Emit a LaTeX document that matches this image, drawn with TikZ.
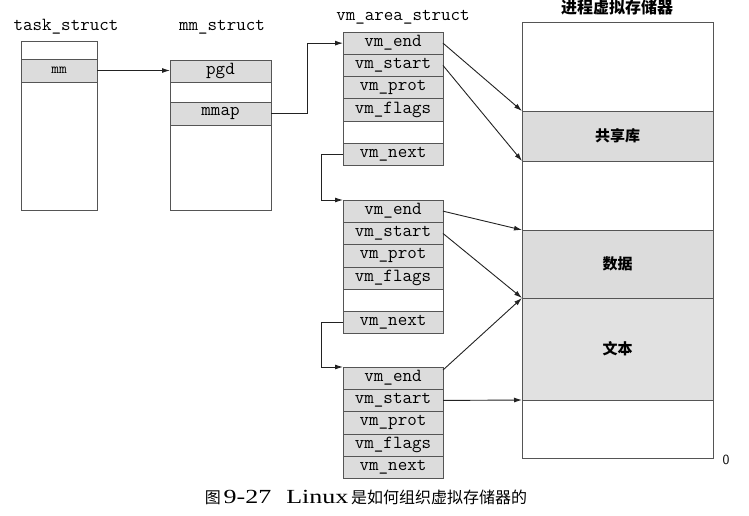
\documentclass[tikz,border=0pt]{standalone}
\usepackage{fontspec}
\usepackage{graphicx}
\setmainfont{Liberation Serif}
\newfontfamily\cjk{Noto Sans CJK SC}
\usetikzlibrary{arrows.meta}
\definecolor{linec}{HTML}{555555}
\definecolor{cellfill}{HTML}{DCDCDC}
\definecolor{arrc}{HTML}{222222}
\begin{document}
\begin{tikzpicture}[x=1pt,y=-1pt,
  box/.style={draw=linec, line width=0.8pt, fill=white, inner sep=0pt, outer sep=0pt},
  cell/.style={draw=linec, line width=0.8pt, fill=cellfill, inner sep=0pt, outer sep=0pt,
     minimum width=100pt, minimum height=22.3pt, font=\ttfamily\fontsize{18.5}{19}\selectfont},
  wcell/.style={cell, fill=white},
  ttl/.style={font=\ttfamily\fontsize{18.5}{19}\selectfont, inner sep=0pt},
  region/.style={draw=linec, line width=0.8pt, fill=cellfill, inner sep=0pt, outer sep=0pt,
     minimum width=191pt, font=\cjk\bfseries\fontsize{15}{16}\selectfont},
  arr/.style={draw=arrc, line width=0.9pt, -{Latex[length=8pt,width=5pt]}}
]
\useasboundingbox (0,0) rectangle (749,516);

% titles
\node[ttl] (t1) at (66,27) {task\_struct};
\node[ttl] (t2) at (222,27) {mm\_struct};
\node[ttl] (t3) at (403,17) {vm\_area\_struct};
\node[font=\cjk\bfseries\fontsize{16}{17}\selectfont, inner sep=0pt] (t4) at (617,7) {进程虚拟存储器};

% task_struct
\node[box, minimum width=76pt, minimum height=169pt] (task) at (59,125.5) {};
\node[cell, minimum width=76pt, minimum height=23pt, font=\ttfamily\fontsize{15}{16}\selectfont] (mm) at (59,70.5) {mm};

% mm_struct
\node[box, minimum width=101pt, minimum height=150pt] (mms) at (220.5,135) {};
\node[cell, minimum width=101pt, minimum height=22pt] (pgd) at (220.5,71) {pgd};
\node[cell, minimum width=101pt, minimum height=23pt] (mmap) at (220.5,113.5) {mmap};

% vm_area_struct 1
\node[cell] (a1) at (393,43.15) {vm\_end};
\node[cell] (b1) at (393,65.45) {vm\_start};
\node[cell] (c1) at (393,87.75) {vm\_prot};
\node[cell] (d1) at (393,110.05) {vm\_flags};
\node[wcell] (e1) at (393,132.35) {};
\node[cell] (f1) at (393,154.65) {vm\_next};

% vm_area_struct 2
\node[cell] (a2) at (393,211.15) {vm\_end};
\node[cell] (b2) at (393,233.45) {vm\_start};
\node[cell] (c2) at (393,255.75) {vm\_prot};
\node[cell] (d2) at (393,278.05) {vm\_flags};
\node[wcell] (e2) at (393,300.35) {};
\node[cell] (f2) at (393,322.65) {vm\_next};

% vm_area_struct 3
\node[cell] (a3) at (393,378.15) {vm\_end};
\node[cell] (b3) at (393,400.45) {vm\_start};
\node[cell] (c3) at (393,422.75) {vm\_prot};
\node[cell] (d3) at (393,445.05) {vm\_flags};
\node[cell] (f3) at (393,467.35) {vm\_next};

% process virtual memory
\node[box, minimum width=191pt, minimum height=436pt] (mem) at (617.5,240) {};
\node[region, minimum height=50pt] (shl) at (617.5,136) {共享库};
\node[region, minimum height=68pt] (dat) at (617.5,264) {数据};
\node[region, minimum height=102pt, fill=cellfill!85] (txt) at (617.5,349) {文本};
\node[font=\sffamily\fontsize{14}{15}\selectfont, inner sep=0pt] (zero) at (726,460) {0};

% connectors
\draw[arr] (mm.east) -- (mm.east -| pgd.west);
\draw[arr] (mmap.east) -- ++(36,0) |- (a1.west);
\draw[arr] (f1.west) -- ++(-22,0) |- (a2.north west);
\draw[arr] (f2.west) -- ++(-22,0) |- (a3.north west);

\draw[arr] (a1.east) -- (shl.north west);
\draw[arr] (b1.east) -- (shl.south west);
\draw[arr] (a2.east) -- (dat.north west);
\draw[arr] (b2.east) -- (dat.south west);
\draw[arr] ([yshift=-3pt]a3.north east) -- (dat.south west);
\draw[arr] (b3.east) -- (txt.south west);

% caption
\node[inner sep=0pt, font=\fontsize{16}{17}\selectfont] (cap) at (366,497)
  {{\cjk 图}\,{\fontsize{20}{20}\selectfont\scalebox{1.3}[1]{9-27}}\hspace{15pt}{\fontsize{20}{20}\selectfont\scalebox{1.3}[1]{Linux}}\,{\cjk 是如何组织虚拟存储器的}};
\end{tikzpicture}
\end{document}
